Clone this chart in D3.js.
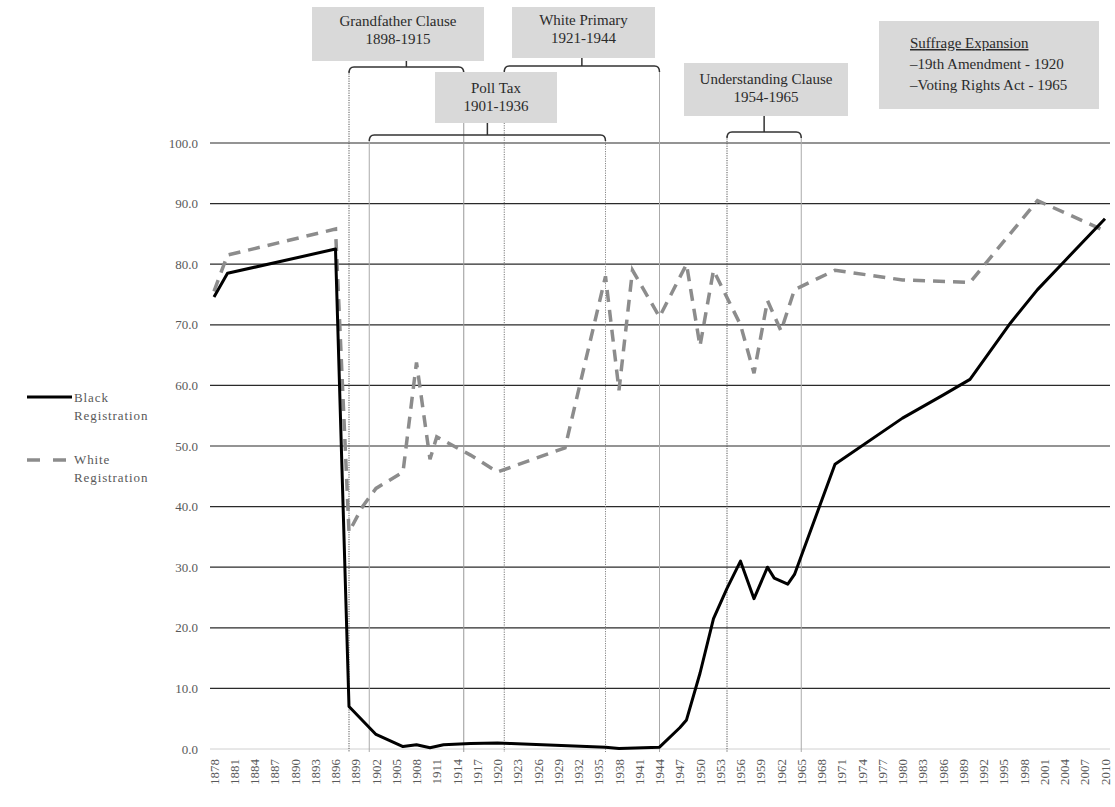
<!DOCTYPE html>
<html>
<head>
<meta charset="utf-8">
<script src="https://cdn.jsdelivr.net/npm/d3@7"></script>
<style>
  body { margin: 0; background: #fff; }
  text { font-family: "Liberation Serif", "DejaVu Serif", serif; }
  .ticklabel { fill: #595959; font-size: 13px; }
  .legendtext { fill: #595959; font-size: 13px; letter-spacing: 0.9px; }
  .notetext { fill: #2b2b2b; font-size: 15px; }
</style>
</head>
<body>
<div id="chart"></div>
<script>
// Registrierung Daten (Prozent)
var blackYears  = [1878, 1880, 1896, 1898, 1902, 1906, 1908, 1910, 1912, 1916, 1920, 1922, 1936, 1938, 1944, 1947, 1948, 1950, 1952, 1954, 1956, 1958, 1960, 1961, 1963, 1964, 1970, 1980, 1986, 1990, 1996, 2000, 2004, 2010];
var blackValues = [74.6, 78.5, 82.5, 7.0, 2.4, 0.4, 0.7, 0.2, 0.7, 0.9, 1.0, 0.9, 0.3, 0.1, 0.3, 3.5, 4.8, 12.5, 21.5, 26.5, 31.0, 24.8, 30.0, 28.2, 27.2, 28.8, 47.0, 54.6, 58.4, 61.0, 70.3, 75.8, 80.5, 87.5];
var whiteYears  = [1878, 1880, 1896, 1898, 1900, 1902, 1906, 1908, 1910, 1911, 1916, 1920, 1930, 1936, 1938, 1940, 1944, 1948, 1950, 1952, 1956, 1958, 1960, 1962, 1964, 1970, 1980, 1990, 2000, 2004, 2010];
var whiteValues = [75.5, 81.5, 85.8, 35.8, 40.0, 43.0, 45.7, 63.8, 47.8, 51.5, 48.5, 45.7, 49.7, 78.0, 59.2, 79.0, 71.3, 80.0, 66.5, 79.0, 70.0, 62.0, 74.0, 69.0, 75.8, 79.0, 77.4, 77.0, 90.5, 88.5, 85.5];

// Achsen
var yTicks = [0, 10, 20, 30, 40, 50, 60, 70, 80, 90, 100];
var xTicks = d3.range(1878, 2011, 3);

// Gesetze (Klammern oben)
var lawNames  = ["Grandfather Clause", "White Primary", "Poll Tax", "Understanding Clause"];
var lawStarts = [1898, 1921, 1901, 1954];
var lawEnds   = [1915, 1944, 1936, 1965];
var suffrageLines = ["\u201319th Amendment - 1920", "\u2013Voting Rights Act - 1965"];
var legendNames = ["Black", "White"];

var width = 1115;
var height = 807;
var svg = d3.select("#chart")
  .append("svg")
  .attr("width", width)
  .attr("height", height);

var x = d3.scaleLinear().domain([1878, 2010]).range([214, 1105]);
var y = d3.scaleLinear().domain([0, 100]).range([749, 143]);

//Gitterlinien + y Beschriftung
yTicks.forEach(function(t){
  svg.append("line")
    .attr("x1", 210)
    .attr("x2", 1110)
    .attr("y1", y(t))
    .attr("y2", y(t))
    .attr("stroke", t == 0 ? "#d0d0d0" : "#2a2a2a")
    .attr("stroke-width", t == 0 ? 1 : 1.2);
  svg.append("text")
    .attr("class", "ticklabel")
    .attr("x", 198)
    .attr("y", y(t))
    .attr("dy", "0.35em")
    .attr("text-anchor", "end")
    .text(d3.format(".1f")(t));
});

//x Beschriftung (gedreht)
xTicks.forEach(function(t){
  svg.append("text")
    .attr("class", "ticklabel")
    .attr("font-size", "12.5px")
    .attr("transform", "translate(" + x(t) + ",759) rotate(-90)")
    .attr("dy", "0.35em")
    .attr("text-anchor", "end")
    .text(t);
});

//vertikale Linien fuer Gesetze
var brackets = [
  {i: 0, y0: 67, top: 61},
  {i: 1, y0: 66, top: 58},
  {i: 2, y0: 135, top: 123},
  {i: 3, y0: 132, top: 116}
];
var lineStyles = [
  ["#555", "1.2,1.2", "#999", null],
  ["#777", "1.2,1.2", "#aaa", null],
  ["#aaa", null, "#888", "1.2,1.2"],
  ["#555", "1.2,1.2", "#aaa", null]
];
brackets.forEach(function(b){
  var xs = [x(lawStarts[b.i]), x(lawEnds[b.i])];
  xs.forEach(function(xv, k){
    svg.append("line")
      .attr("x1", xv)
      .attr("x2", xv)
      .attr("y1", b.y0 + 4)
      .attr("y2", 752)
      .attr("stroke", lineStyles[b.i][k * 2])
      .attr("stroke-width", 1)
      .attr("stroke-dasharray", lineStyles[b.i][k * 2 + 1]);
  });
  var xm = (xs[0] + xs[1]) / 2;
  svg.append("path")
    .attr("d", "M" + xs[0] + "," + (b.y0 + 6) + " Q" + xs[0] + "," + b.y0 + " " + (xs[0] + 5) + "," + b.y0 +
               " H" + (xs[1] - 5) + " Q" + xs[1] + "," + b.y0 + " " + xs[1] + "," + (b.y0 + 6) +
               " M" + xm + "," + b.y0 + " V" + b.top)
    .attr("fill", "none")
    .attr("stroke", "#333")
    .attr("stroke-width", 1.5);
});

//Boxen
var boxes = [
  {i: 0, x: 312, y: 7, w: 172, h: 54, ty: 26},
  {i: 1, x: 512, y: 7, w: 143, h: 51, ty: 25},
  {i: 2, x: 435, y: 72, w: 122, h: 51, ty: 93},
  {i: 3, x: 684, y: 63, w: 164, h: 53, ty: 84}
];
boxes.forEach(function(b){
  svg.append("rect")
    .attr("x", b.x)
    .attr("y", b.y)
    .attr("width", b.w)
    .attr("height", b.h)
    .attr("fill", "#d9d9d9");
  svg.append("text")
    .attr("class", "notetext")
    .attr("x", b.x + b.w / 2)
    .attr("y", b.ty)
    .attr("text-anchor", "middle")
    .text(lawNames[b.i]);
  svg.append("text")
    .attr("class", "notetext")
    .attr("x", b.x + b.w / 2)
    .attr("y", b.ty + 18)
    .attr("text-anchor", "middle")
    .text(lawStarts[b.i] + "-" + lawEnds[b.i]);
});

//Suffrage Box
svg.append("rect")
  .attr("x", 879)
  .attr("y", 21)
  .attr("width", 220)
  .attr("height", 88)
  .attr("fill", "#d9d9d9");
svg.append("text")
  .attr("class", "notetext")
  .attr("x", 910)
  .attr("y", 48)
  .attr("text-decoration", "underline")
  .text("Suffrage Expansion ");
svg.append("text")
  .attr("class", "notetext")
  .attr("x", 910)
  .attr("y", 69)
  .text(suffrageLines[0]);
svg.append("text")
  .attr("class", "notetext")
  .attr("x", 910)
  .attr("y", 90)
  .text(suffrageLines[1]);

//Linien
var line = d3.line()
  .x(function(d){ return x(d[0]); })
  .y(function(d){ return y(d[1]); });

svg.append("path")
  .datum(d3.zip(whiteYears, whiteValues))
  .attr("d", line)
  .attr("fill", "none")
  .attr("stroke", "#8c8c8c")
  .attr("stroke-width", 3.5)
  .attr("stroke-dasharray", "12,8");

svg.append("path")
  .datum(d3.zip(blackYears, blackValues))
  .attr("d", line)
  .attr("fill", "none")
  .attr("stroke", "#000")
  .attr("stroke-width", 3)
  .attr("stroke-linejoin", "round");

//Legende
svg.append("line")
  .attr("x1", 27).attr("x2", 72)
  .attr("y1", 397).attr("y2", 397)
  .attr("stroke", "#000")
  .attr("stroke-width", 3);
svg.append("line")
  .attr("x1", 27).attr("x2", 72)
  .attr("y1", 460).attr("y2", 460)
  .attr("stroke", "#8c8c8c")
  .attr("stroke-width", 3.5)
  .attr("stroke-dasharray", "13,13");
[[legendNames[0], 402], ["Registration", 420], [legendNames[1], 464], ["Registration", 482]].forEach(function(l){
  svg.append("text")
    .attr("class", "legendtext")
    .attr("x", 74)
    .attr("y", l[1])
    .text(l[0]);
});
</script>
</body>
</html>
